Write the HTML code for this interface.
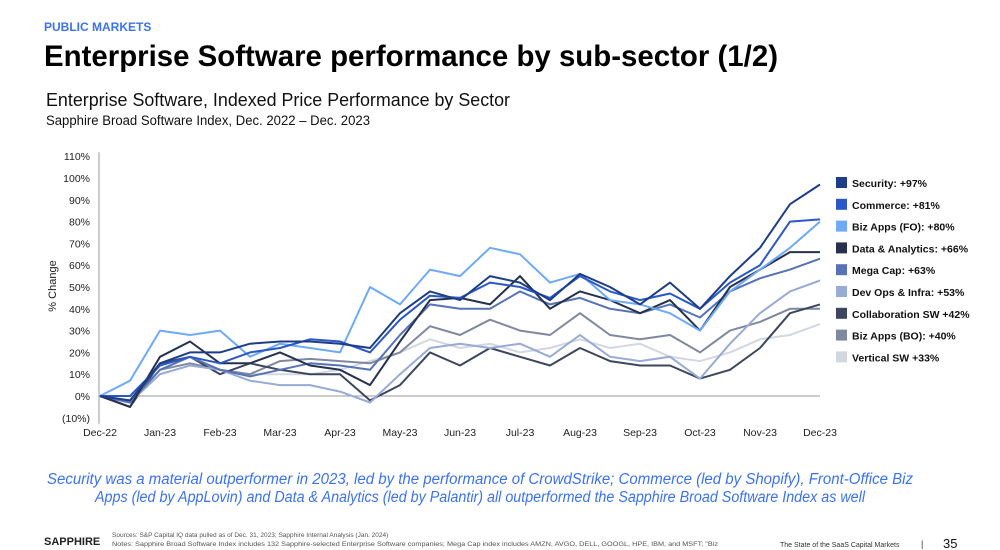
<!DOCTYPE html>
<html><head><meta charset="utf-8"><style>
html,body{margin:0;padding:0;background:#fff;width:1000px;height:550px;overflow:hidden}
svg{display:block;font-family:"Liberation Sans",sans-serif}
</style></head><body>
<svg id="chart" width="1000" height="550" viewBox="0 0 1000 550">
<text x="44" y="31" font-size="12" font-weight="bold" fill="#3b72f0">PUBLIC MARKETS</text>
<text x="44" y="66" font-size="30" font-weight="bold" fill="#000" textLength="734" lengthAdjust="spacingAndGlyphs">Enterprise Software performance by sub-sector (1/2)</text>
<text x="46" y="106" font-size="18" fill="#111" textLength="464" lengthAdjust="spacingAndGlyphs">Enterprise Software, Indexed Price Performance by Sector</text>
<text x="46" y="125" font-size="13.5" fill="#111" textLength="324" lengthAdjust="spacingAndGlyphs">Sapphire Broad Software Index, Dec. 2022 – Dec. 2023</text>
<text transform="translate(56,286) rotate(-90)" font-size="11" text-anchor="middle" fill="#222">% Change</text>
<g id="yaxis"></g>
<g id="xaxis"></g>
<g id="lines"></g>
<g id="legend"></g>
<text x="480" y="484" font-size="15.5" font-style="italic" fill="#3b72f0" text-anchor="middle" textLength="866" lengthAdjust="spacingAndGlyphs">Security was a material outperformer in 2023, led by the performance of CrowdStrike; Commerce (led by Shopify), Front-Office Biz</text>
<text x="480" y="502" font-size="15.5" font-style="italic" fill="#3b72f0" text-anchor="middle" textLength="770" lengthAdjust="spacingAndGlyphs">Apps (led by AppLovin) and Data &amp; Analytics (led by Palantir) all outperformed the Sapphire Broad Software Index as well</text>
<text x="44" y="545" font-size="11" font-weight="bold" fill="#222">SAPPHIRE</text>
<text x="112" y="537" font-size="6.5" fill="#555">Sources: S&amp;P Capital IQ data pulled as of Dec. 31, 2023; Sapphire Internal Analysis (Jan. 2024)</text>
<text x="112" y="546" font-size="6.5" fill="#555" textLength="606" lengthAdjust="spacingAndGlyphs">Notes: Sapphire Broad Software Index includes 132 Sapphire-selected Enterprise Software companies; Mega Cap index includes AMZN, AVGO, DELL, GOOGL, HPE, IBM, and MSFT; "Biz</text>
<text x="780" y="547" font-size="7" fill="#333">The State of the SaaS Capital Markets</text>
<text x="921" y="547" font-size="9" fill="#333">|</text>
<text x="943" y="548" font-size="13" fill="#111">35</text>
</svg>
<script>
const months = ["Dec-22","Jan-23","Feb-23","Mar-23","Apr-23","May-23","Jun-23","Jul-23","Aug-23","Sep-23","Oct-23","Nov-23","Dec-23"];
const yTicks = [-10,0,10,20,30,40,50,60,70,80,90,100,110];
const seriesNames = ["Security: +97%","Commerce: +81%","Biz Apps (FO): +80%","Data & Analytics: +66%","Mega Cap: +63%","Dev Ops & Infra: +53%","Collaboration SW +42%","Biz Apps (BO): +40%","Vertical SW +33%"];
const security = [0,-2,15,20,20,24,25,25,24,22,38,48,44,55,52,44,56,50,42,52,40,55,68,88,97];
const commerce = [0,0,14,18,15,20,22,26,25,20,35,46,45,52,50,45,55,48,44,47,40,52,60,80,81];
const bizAppsFO = [0,7,30,28,30,18,24,22,20,50,42,58,55,68,65,52,56,44,42,38,30,48,58,68,80];
const dataAnalytics = [0,-5,18,25,15,15,20,14,12,5,25,44,45,42,55,40,48,44,38,44,30,50,58,66,66];
const megaCap = [0,-3,12,18,12,9,12,15,14,12,28,42,40,40,48,42,45,40,38,42,36,48,54,58,63];
const devOps = [0,-3,10,14,12,7,5,5,2,-3,10,22,24,22,24,18,28,18,16,18,8,24,38,48,53];
const collab = [0,-5,15,18,10,15,12,10,10,-2,5,20,14,22,18,14,22,16,14,14,8,12,22,38,42];
const bizAppsBO = [0,-3,12,15,12,10,16,17,16,15,20,32,28,35,30,28,38,28,26,28,20,30,34,40,40];
const vertical = [0,-2,10,14,12,10,10,10,12,16,20,26,22,24,20,22,26,22,24,18,16,20,26,28,33];
const allSeries = [security,commerce,bizAppsFO,dataAnalytics,megaCap,devOps,collab,bizAppsBO,vertical];
const colors = ["#1d3d86","#2a58c8","#6eaaf6","#25314f","#5773b6","#98abd5","#3c465e","#7f889f","#d3d7e0"];
const ns="http://www.w3.org/2000/svg";
const X0=100,X1=820,Y0=396,PX=2.18;
const y=v=>Y0-v*PX;
const xi=(i,n)=>X0+(X1-X0)*i/(n-1);
function mk(t,a,p){const e=document.createElementNS(ns,t);for(const k in a)e.setAttribute(k,a[k]);p.appendChild(e);return e;}
const ya=document.getElementById('yaxis'),xa=document.getElementById('xaxis'),lg=document.getElementById('lines'),le=document.getElementById('legend');
yTicks.forEach(v=>{const t=mk('text',{x:90,y:y(v)+4,'font-size':10.5,'text-anchor':'end',fill:'#222'},ya);t.textContent=v<0?'('+(-v)+'%)':v+'%';

});
const ax=mk('line',{x1:99,y1:y(110)-4,x2:99,y2:y(-10)+6,stroke:'#999','stroke-width':1},ya);


const zl=mk('line',{x1:99,y1:y(0),x2:X1,y2:y(0),stroke:'#999','stroke-width':1},xa);


months.forEach((m,i)=>{const t=mk('text',{x:xi(i,months.length),y:436,'font-size':10.5,'text-anchor':'middle',fill:'#222'},xa);t.textContent=m;

});
for(let s=allSeries.length-1;s>=0;s--){const d=allSeries[s];const pts=d.map((v,i)=>xi(i,d.length).toFixed(1)+','+y(v).toFixed(1)).join(' ');
const p=mk('polyline',{points:pts,fill:'none',stroke:colors[s],'stroke-width':2,'stroke-linejoin':'round'},lg);

}
seriesNames.forEach((n,i)=>{const yy=183+i*21.8;
const r=mk('rect',{x:836,y:yy-6,width:11,height:11,fill:colors[i]},le);


const t=mk('text',{x:852,y:yy+4,'font-size':10.5,'font-weight':'bold',fill:'#111'},le);t.textContent=n;

});
</script>
</body></html>
